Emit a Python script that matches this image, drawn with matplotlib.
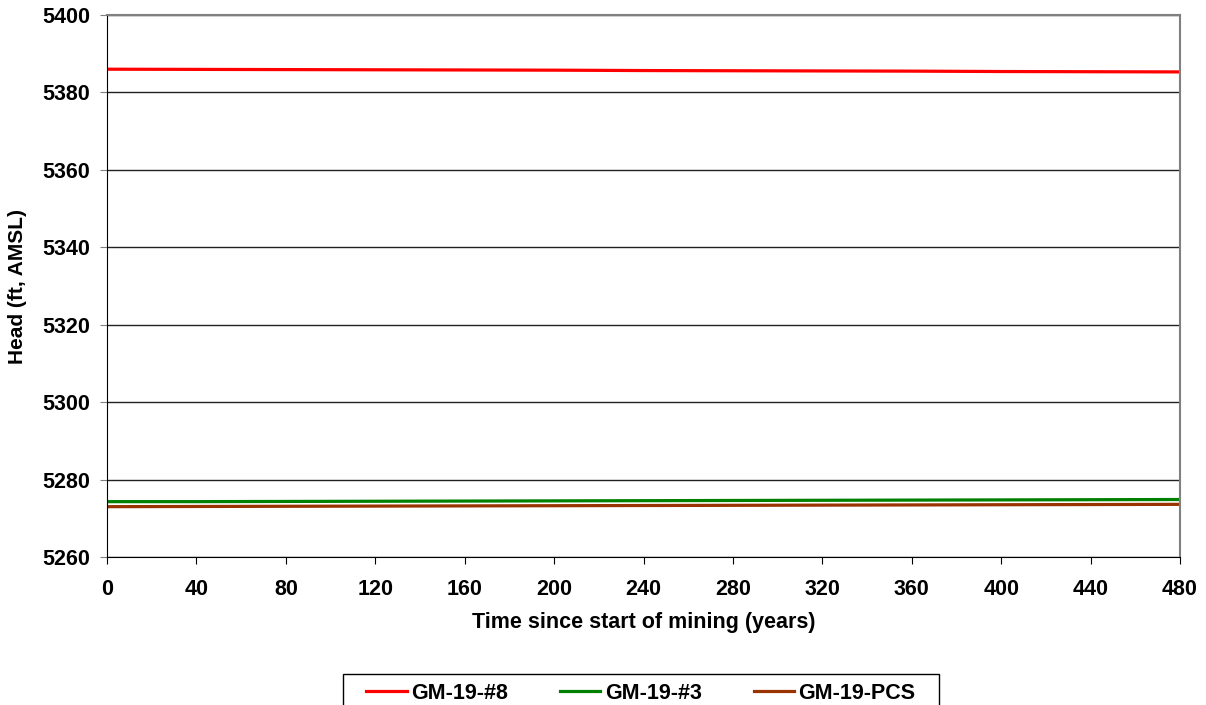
import matplotlib.pyplot as plt
from matplotlib.patches import Rectangle

plt.rcParams['font.family'] = ['Liberation Sans', 'DejaVu Sans']
plt.rcParams['font.weight'] = 'bold'

# Data
years = [0, 40, 80, 120, 160, 200, 240, 280, 320, 360, 400, 440, 480]
gm19_8 = [5386.0, 5385.95, 5385.9, 5385.85, 5385.8, 5385.75, 5385.65, 5385.6,
          5385.55, 5385.5, 5385.4, 5385.35, 5385.3]
gm19_3 = [5274.3, 5274.3, 5274.35, 5274.4, 5274.45, 5274.5, 5274.55, 5274.6,
          5274.65, 5274.7, 5274.75, 5274.8, 5274.85]
gm19_pcs = [5273.0, 5273.05, 5273.1, 5273.15, 5273.2, 5273.25, 5273.3, 5273.35,
            5273.4, 5273.45, 5273.5, 5273.55, 5273.6]

W, H = 1206, 705
fig, ax = plt.subplots(figsize=(W / 100, H / 100), dpi=100)
fig.subplots_adjust(left=107 / W, right=1180 / W, top=1 - 15 / H, bottom=1 - 557 / H)

ax.plot(years, gm19_8, color='#ff0000', lw=2.3, label='GM-19-#8')
ax.plot(years, gm19_3, color='#008000', lw=2.3, label='GM-19-#3')
ax.plot(years, gm19_pcs, color='#993300', lw=2.3, label='GM-19-PCS')

ax.set_xlim(0, 480)
ax.set_ylim(5260, 5400)
ax.set_xticks(range(0, 481, 40))
ax.set_yticks(range(5260, 5401, 20))
ax.grid(axis='y', color='#222222', lw=1)
ax.set_axisbelow(True)

for s in ['top', 'right']:
    ax.spines[s].set_color('#808080')
    ax.spines[s].set_linewidth(1.5)
ax.spines['left'].set_color('black')
ax.spines['bottom'].set_color('black')
ax.tick_params(labelsize=15.5, length=5, direction='out')
ax.tick_params(axis='x', pad=11)
ax.tick_params(axis='y', color='#808080', pad=7)

ax.set_xlabel('Time since start of mining (years)', fontsize=15.5, fontweight='bold')
ax.xaxis.set_label_coords(0.5, -0.102)
ax.set_ylabel('Head (ft, AMSL)', fontsize=15, fontweight='bold')
ax.yaxis.set_label_coords(-0.0746, 0.5)

# legend at the bottom, box drawn separately so it can be wider than tall padding
leg = fig.legend(loc='upper center', bbox_to_anchor=(641 / W, 1 - 683 / H), ncol=3,
                 frameon=False, fontsize=15.5,
                 handlelength=1.86, handletextpad=0.23, columnspacing=2.4,
                 borderpad=0, borderaxespad=0)

fig.canvas.draw()
bb = leg.get_window_extent()
x0, x1 = 343, 939
y_top = H - 674
fig.patches.append(Rectangle((x0 / W, (y_top - 44) / H), (x1 - x0) / W, 44 / H,
                             transform=fig.transFigure, fill=False,
                             edgecolor='black', lw=1, zorder=5))

fig.savefig('out.png')
